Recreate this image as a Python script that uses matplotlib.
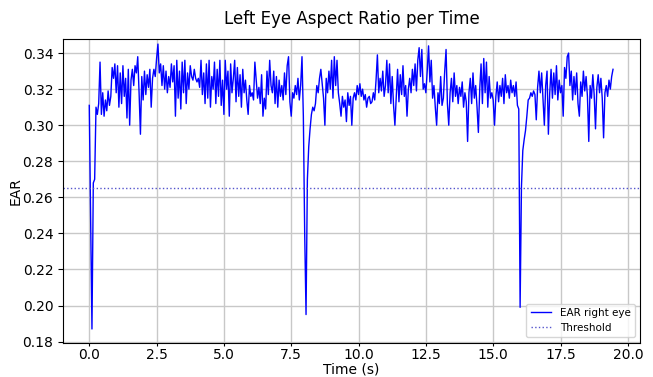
import numpy as np
import matplotlib
matplotlib.use('Agg')
from matplotlib import pyplot as plt

# EAR per frame (20 samples per second)
fps = 20
ear_right_eye = [
    # 0 s
    0.311, 0.250, 0.187, 0.268, 0.270, 0.310, 0.306, 0.312, 0.335, 0.306,
    0.318, 0.305, 0.314, 0.308, 0.319, 0.311, 0.316, 0.332, 0.326, 0.334,
    # 1 s
    0.318, 0.333, 0.310, 0.329, 0.312, 0.333, 0.316, 0.326, 0.304, 0.331,
    0.300, 0.325, 0.331, 0.322, 0.333, 0.329, 0.338, 0.318, 0.295, 0.327,
    # 2 s
    0.314, 0.330, 0.317, 0.328, 0.321, 0.331, 0.310, 0.326, 0.331, 0.327,
    0.337, 0.345, 0.329, 0.334, 0.322, 0.333, 0.320, 0.330, 0.318, 0.327,
    # 3 s
    0.321, 0.334, 0.324, 0.333, 0.305, 0.336, 0.315, 0.330, 0.309, 0.335,
    0.318, 0.336, 0.312, 0.329, 0.320, 0.333, 0.327, 0.325, 0.331, 0.326,
    # 4 s
    0.324, 0.326, 0.321, 0.336, 0.317, 0.329, 0.312, 0.334, 0.315, 0.336,
    0.310, 0.327, 0.320, 0.335, 0.312, 0.331, 0.316, 0.336, 0.311, 0.325,
    # 5 s
    0.306, 0.336, 0.320, 0.330, 0.305, 0.334, 0.318, 0.326, 0.336, 0.313,
    0.332, 0.316, 0.328, 0.310, 0.331, 0.318, 0.325, 0.314, 0.306, 0.322,
    # 6 s
    0.316, 0.318, 0.314, 0.335, 0.325, 0.315, 0.321, 0.312, 0.328, 0.305,
    0.315, 0.309, 0.330, 0.317, 0.336, 0.322, 0.318, 0.330, 0.312, 0.327,
    # 7 s
    0.310, 0.325, 0.316, 0.322, 0.314, 0.329, 0.317, 0.333, 0.338, 0.313,
    0.305, 0.318, 0.315, 0.322, 0.317, 0.326, 0.314, 0.322, 0.338, 0.305,
    # 8 s
    0.240, 0.195, 0.270, 0.288, 0.298, 0.306, 0.310, 0.308, 0.312, 0.322,
    0.318, 0.326, 0.331, 0.323, 0.315, 0.300, 0.326, 0.318, 0.330, 0.320,
    # 9 s
    0.336, 0.315, 0.338, 0.322, 0.336, 0.318, 0.312, 0.305, 0.316, 0.310,
    0.314, 0.302, 0.318, 0.311, 0.316, 0.300, 0.315, 0.318, 0.314, 0.322,
    # 10 s
    0.317, 0.323, 0.316, 0.320, 0.314, 0.317, 0.310, 0.315, 0.316, 0.312,
    0.313, 0.318, 0.314, 0.325, 0.339, 0.318, 0.326, 0.319, 0.330, 0.316,
    # 11 s
    0.322, 0.336, 0.318, 0.334, 0.312, 0.327, 0.311, 0.300, 0.316, 0.331,
    0.313, 0.328, 0.317, 0.333, 0.316, 0.322, 0.305, 0.320, 0.326, 0.318,
    # 12 s
    0.331, 0.322, 0.334, 0.319, 0.336, 0.343, 0.327, 0.342, 0.320, 0.323,
    0.318, 0.330, 0.344, 0.324, 0.336, 0.315, 0.322, 0.310, 0.300, 0.318,
    # 13 s
    0.312, 0.327, 0.311, 0.315, 0.330, 0.342, 0.312, 0.300, 0.318, 0.326,
    0.313, 0.329, 0.316, 0.322, 0.312, 0.321, 0.316, 0.324, 0.310, 0.318,
    # 14 s
    0.313, 0.291, 0.318, 0.326, 0.312, 0.329, 0.315, 0.322, 0.310, 0.296,
    0.320, 0.334, 0.312, 0.337, 0.318, 0.335, 0.310, 0.327, 0.315, 0.318,
    # 15 s
    0.314, 0.300, 0.316, 0.324, 0.313, 0.322, 0.316, 0.326, 0.312, 0.328,
    0.318, 0.322, 0.315, 0.325, 0.318, 0.322, 0.316, 0.324, 0.311, 0.309,
    # 16 s
    0.199, 0.266, 0.286, 0.292, 0.297, 0.305, 0.314, 0.315, 0.318, 0.316,
    0.319, 0.317, 0.303, 0.321, 0.330, 0.318, 0.329, 0.315, 0.300, 0.322,
    # 17 s
    0.330, 0.295, 0.318, 0.331, 0.315, 0.329, 0.317, 0.333, 0.314, 0.325,
    0.318, 0.322, 0.305, 0.332, 0.326, 0.338, 0.340, 0.322, 0.330, 0.314,
    # 18 s
    0.327, 0.317, 0.329, 0.312, 0.305, 0.324, 0.316, 0.330, 0.319, 0.327,
    0.316, 0.291, 0.322, 0.315, 0.328, 0.317, 0.298, 0.321, 0.328, 0.318,
    # 19 s
    0.326, 0.315, 0.293, 0.318, 0.322, 0.316, 0.325, 0.320, 0.327, 0.331,
]
threshold = 0.265

ear = np.array(ear_right_eye)
time_s = np.arange(len(ear)) / fps

fig = plt.figure(figsize=(6.53, 3.77), dpi=100)
ax = fig.add_axes([0.0965, 0.0915, 0.8835, 0.805])

ax.plot(time_s, ear, color='blue', linewidth=1.0, label='EAR right eye')
ax.axhline(threshold, color='#5555cc', linestyle=':', linewidth=1.0, label='Threshold')

ax.set_xlim(-0.975, 20.45)
ax.set_ylim(0.1795, 0.3478)
ax.set_xticks(np.arange(0, 20.1, 2.5))
ax.set_yticks(np.arange(0.18, 0.341, 0.02))
ax.grid(True, color='#c8c8c8', linewidth=1.0)
ax.set_axisbelow(True)
ax.tick_params(labelsize=10)
ax.tick_params(axis='x', length=2.5, pad=1.5)

ax.set_title('Left Eye Aspect Ratio per Time', fontsize=12, pad=11)
ax.set_xlabel('Time (s)', fontsize=10, labelpad=0)
ax.set_ylabel('EAR', fontsize=10, labelpad=0)
ax.legend(loc='lower right', fontsize=7.5)

plt.savefig('out.png', dpi=100)
plt.close()
